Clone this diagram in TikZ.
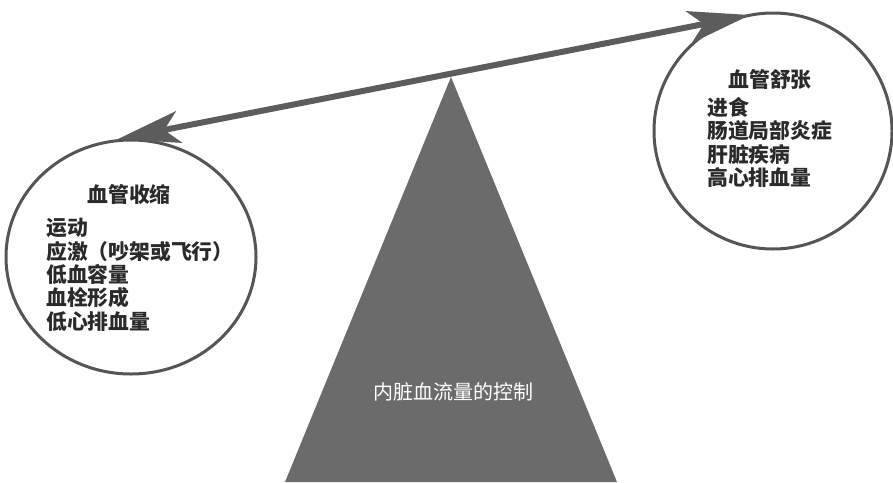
\documentclass[tikz,border=0pt]{standalone}
\usepackage{fontspec}
\newfontfamily\cjk{Noto Sans CJK SC}
\usetikzlibrary{arrows.meta,shapes.geometric}
\definecolor{arrowgray}{HTML}{5C5C5C}
\definecolor{trigray}{HTML}{6B6B6B}
\definecolor{ringgray}{HTML}{555555}
\definecolor{inkgray}{HTML}{2A2A2A}
\begin{document}
\begin{tikzpicture}[x=1pt,y=-1pt,
  ring/.style={draw=ringgray,line width=3pt,ellipse,inner sep=0pt},
  title/.style={font=\cjk\bfseries\fontsize{20.8}{23.5}\selectfont,text=inkgray,inner sep=0pt},
  item/.style={font=\cjk\bfseries\fontsize{20.8}{23.5}\selectfont,text=inkgray,inner sep=0pt,anchor=west},
  lever/.style={draw=arrowgray,line width=6pt,
    {Stealth[length=62pt,width=32pt,inset=15pt]}-{Stealth[length=62pt,width=32pt,inset=15pt]}},
  fulcrumlabel/.style={font=\cjk\fontsize{20}{24}\selectfont,text=white,inner sep=0pt}]
\useasboundingbox[fill=white] (0,0) rectangle (893,482);
% fulcrum
\coordinate (apex) at (451,77);
\coordinate (bl) at (285,482);
\coordinate (br) at (617,482);
\fill[trigray] (apex) -- (bl) -- (br) -- cycle;
\node[fulcrumlabel] (flabel) at (453,392) {内脏血流量的控制};
% circles
\node[ring,minimum width=250pt,minimum height=234pt] (lc) at (131,257) {};
\node[ring,minimum width=238pt,minimum height=236pt] (rc) at (773,131) {};
% lever arrow
\coordinate (lt) at (118,139);
\coordinate (rt) at (750,15);
\draw[lever] (lt) -- (rt);
% left texts
\node[title] (lt0) at (129,195) {血管收缩};
\node[item] (l1) at (46,228) {运动};
\node[item] (l2) at (46,252) {应激（吵架或飞行）};
\node[item] (l3) at (46,275) {低血容量};
\node[item] (l4) at (46,298) {血栓形成};
\node[item] (l5) at (46,322) {低心排血量};
% right texts
\node[title] (rt0) at (770,80) {血管舒张};
\node[item] (r1) at (707,107) {进食};
\node[item] (r2) at (707,131) {肠道局部炎症};
\node[item] (r3) at (707,155) {肝脏疾病};
\node[item] (r4) at (707,178) {高心排血量};
\end{tikzpicture}
\end{document}
